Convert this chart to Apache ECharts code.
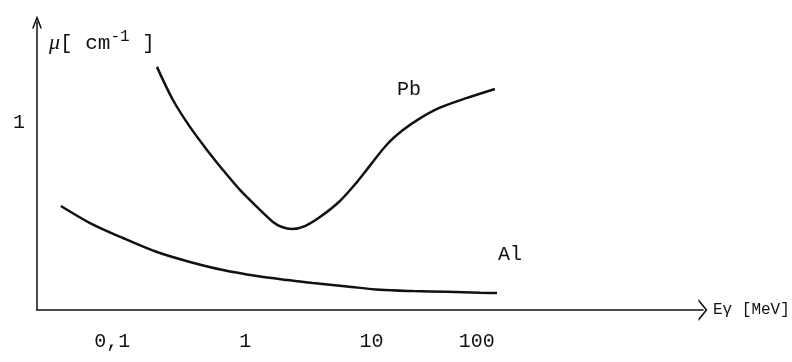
<!DOCTYPE html>
<html><head><meta charset="utf-8">
<script src="https://cdn.jsdelivr.net/npm/echarts@6/dist/echarts.min.js"></script>
<style>html,body{margin:0;padding:0;background:#fff}#c{width:792px;height:362px}</style>
</head><body><div id="c"></div>
<script>
// Photon energy E (MeV) and linear attenuation coefficient mu (cm^-1)
const pbEnergy = [0.2077,0.2808,0.3870,0.5330,0.7203,0.9925,1.367,1.848,2.190,2.644,3.378,4.481,6.534,9.000,11.50,15.84,21.41,29.49,42.99,71.50,121.2];
const pbMu     = [1.30,1.123,0.979,0.856,0.749,0.642,0.551,0.471,0.444,0.433,0.449,0.497,0.583,0.684,0.772,0.885,0.962,1.025,1.082,1.134,1.182];
const alEnergy = [0.0340,0.0588,0.1095,0.2077,0.3870,0.7203,1.367,2.452,3.928,7.455,13.88,25.85,49.07,91.34,125.9];
const alMu     = [0.556,0.465,0.385,0.310,0.257,0.214,0.182,0.160,0.144,0.126,0.108,0.101,0.097,0.092,0.091];
const xTickEnergies = [0.1,1,10,100];
const xTickLabels = ['0,1','1','10','100'];
const yTickValues = [1];
const yTickLabels = ['1'];

const L = Math.log10;
// hand-lettered labels sit slightly off the exact decade positions (px nudges, styling only)
const labelNudge = [-6,5,9,-8];
const mono = 'Liberation Mono';
const rich = {};
labelNudge.forEach((d,i)=>{rich['k'+i]={fontFamily:mono,fontSize:20,color:'#111',padding:[0,d<0?-2*d:0,0,d>0?2*d:0]};});
const chart = echarts.init(document.getElementById('c'), null, {renderer:'canvas'});
const chevronX = 'path://M0,9 L11,0 L22,9 L19.5,9 L11,2.05 L2.5,9 Z';
const chevronY = 'path://M0,13 L5,0 L10,13 L8.4,13 L5,4.16 L1.6,13 Z';
function nameMark(text, coord){
  return {symbol:'rect', symbolSize:[34,22], itemStyle:{color:'rgba(255,255,255,0)'}, silent:true,
    data:[{coord:coord}],
    label:{show:true, formatter:text, position:'inside', fontFamily:mono, fontSize:20, color:'#111'}};
}
chart.setOption({
  animation:false,
  backgroundColor:'#fff',
  grid:{left:37, top:22, right:89, bottom:52, containLabel:false, outerBoundsMode:'none'},
  title:{
    text:'{mu|μ}{t|[ cm}{s|-1}{t| ]}',
    left:44, top:24,
    textStyle:{rich:{
      mu:{fontFamily:'Liberation Serif',fontStyle:'italic',fontWeight:'normal',fontSize:22,color:'#111'},
      t:{fontFamily:mono,fontWeight:'normal',fontSize:21,color:'#111'},
      s:{fontFamily:mono,fontWeight:'normal',fontSize:16,color:'#111',padding:[0,0,12,0]}
    }}
  },
  xAxis:{
    type:'value', min:-1.664, max:3.786,
    axisLine:{show:true, onZero:false, lineStyle:{color:'#111',width:1.5}, symbol:['none',chevronX], symbolSize:[22,9]},
    axisTick:{show:false}, splitLine:{show:false},
    axisLabel:{customValues:xTickEnergies.map(L), margin:22, rich:rich,
      formatter:v=>{const i=xTickEnergies.findIndex(e=>Math.abs(L(e)-v)<1e-6);return i>=0?'{k'+i+'|'+xTickLabels[i]+'}':'';}},
    name:'Eγ [MeV]', nameLocation:'end', nameGap:10,
    nameTextStyle:{fontFamily:mono, fontSize:16, color:'#111', align:'left', verticalAlign:'middle'}
  },
  yAxis:{
    type:'value', min:0, max:1.54,
    axisLine:{show:true, onZero:false, lineStyle:{color:'#111',width:1.5}, symbol:['none',chevronY], symbolSize:[10,13]},
    axisTick:{show:false}, splitLine:{show:false},
    axisLabel:{customValues:yTickValues, margin:12, fontFamily:mono, fontSize:20, color:'#111',
      formatter:v=>{const i=yTickValues.indexOf(v);return i>=0?yTickLabels[i]:'';}}
  },
  series:[
    {type:'line', name:'Pb', smooth:0.3, showSymbol:false, data:pbEnergy.map((e,i)=>[L(e),pbMu[i]]),
     lineStyle:{color:'#111',width:2.5},
     markPoint:nameMark('Pb',[L(23.97),1.176])},
    {type:'line', name:'Al', smooth:0.3, showSymbol:false, data:alEnergy.map((e,i)=>[L(e),alMu[i]]),
     lineStyle:{color:'#111',width:2.5},
     markPoint:nameMark('Al',[L(160.8),0.294])}
  ]
});
</script></body></html>
